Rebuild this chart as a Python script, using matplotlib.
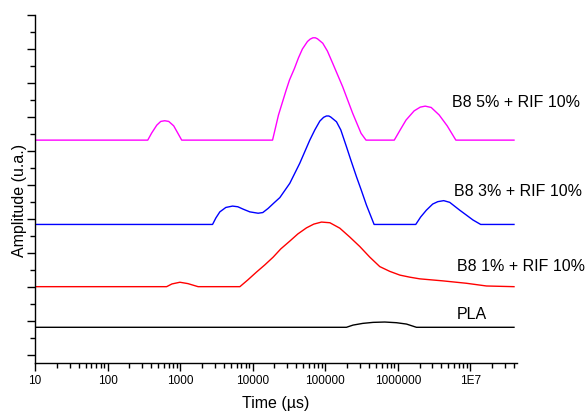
import matplotlib.pyplot as plt
from matplotlib.ticker import LogLocator, MultipleLocator, NullFormatter

plt.rcParams['font.family'] = ['Liberation Sans', 'DejaVu Sans']

# relaxation time (us) and stacked amplitude (u.a.) for each sample
t_b8_5 = [10, 358, 406, 477, 541, 614, 697, 816, 927, 1052, 18800, 22700, 28950,
          32200, 37700, 42800, 48500, 56900, 62000, 67700, 73000, 78200, 92500, 107200,
          126800, 174000, 239000, 312000, 365000, 895000, 1.08e6, 1.30e6, 1.68e6,
          2.04e6, 2.39e6, 2.89e6, 3.72e6, 4.80e6, 6.32e6, 4e7]
a_b8_5 = [6.32, 6.32, 6.53, 6.76, 6.87, 6.89, 6.87, 6.74, 6.53, 6.32, 6.32, 7.06, 7.79,
          8.09, 8.43, 8.74, 9.00, 9.22, 9.29, 9.33, 9.33, 9.30, 9.17, 8.94,
          8.58, 7.89, 7.11, 6.52, 6.32, 6.32, 6.62, 6.91, 7.18,
          7.29, 7.32, 7.28, 7.06, 6.74, 6.32, 6.32]

t_b8_3 = [10, 2800, 3110, 3530, 4270, 5280, 6250, 7390, 9140, 11900, 13800, 16300,
          19600, 23700, 32500, 44600, 61300, 71900, 84300, 95000, 104000, 112000,
          119000, 143000, 164000, 196000, 225000, 270000, 314000, 370000, 472000,
          1.77e6, 2.07e6, 2.48e6, 3.03e6, 3.56e6, 4.30e6, 5.20e6, 7.14e6, 8.64e6,
          1.09e7, 1.39e7, 4e7]
a_b8_3 = [3.84, 3.84, 4.03, 4.21, 4.34, 4.38, 4.36, 4.29, 4.21, 4.17, 4.19, 4.31,
          4.47, 4.63, 5.05, 5.64, 6.32, 6.62, 6.88, 6.99, 7.03, 7.03,
          7.00, 6.86, 6.62, 6.13, 5.74, 5.24, 4.85, 4.41, 3.84,
          3.84, 4.06, 4.26, 4.44, 4.51, 4.54, 4.49, 4.26, 4.13,
          3.97, 3.84, 3.84]

t_b8_1 = [10, 652, 771, 994, 1280, 1770, 6670, 8590, 11300, 14700, 19200, 24400,
          32500, 41900, 55200, 69600, 88900, 116000, 159000, 218000, 300000, 411000,
          565000, 776000, 1.07e6, 1.46e6, 2.01e6, 4.21e6, 8.83e6, 1.67e7, 4e7]
a_b8_1 = [2.01, 2.01, 2.09, 2.14, 2.10, 2.01, 2.01, 2.21, 2.44, 2.65, 2.88, 3.12,
          3.35, 3.56, 3.74, 3.85, 3.91, 3.89, 3.73, 3.47, 3.19, 2.88,
          2.60, 2.46, 2.35, 2.29, 2.24, 2.18, 2.11, 2.03, 2.01]

t_pla = [10, 196000, 242000, 329000, 457000, 662000, 960000, 1.32e6, 1.81e6, 4e7]
a_pla = [0.815, 0.815, 0.88, 0.93, 0.96, 0.97, 0.95, 0.91, 0.815, 0.815]

labels = ['B8 5% + RIF 10%', 'B8 3% + RIF 10%', 'B8 1% + RIF 10%', 'PLA']
colors = ['#ff00ff', '#0000ff', '#ff0000', '#000000']

xtick_vals = [10, 100, 1000, 10000, 100000, 1000000, 1e7]
xtick_labels = ['10', '100', '1000', '10000', '100000', '1000000', '1E7']

fig = plt.figure(figsize=(5.86, 4.12), dpi=100)
ax = fig.add_axes([35 / 586, 49 / 412, 482 / 586, 348 / 412])

series = [(t_b8_5, a_b8_5), (t_b8_3, a_b8_3), (t_b8_1, a_b8_1), (t_pla, a_pla)]
for (t, a), c in zip(series, colors):
    ax.plot(t, a, color=c, lw=1.0)

# curve names sit to the right, just above each trace
label_xy = [(5.66e6, 7.42), (5.9e6, 4.80), (6.5e6, 2.60), (6.6e6, 1.18)]
for (x, y), s in zip(label_xy, labels):
    ax.text(x, y, s, fontsize=11.5, ha='left', va='center', color='black')

ax.set_xscale('log')
ax.set_xlim(10, 4.4e7)
ax.set_ylim(-0.235, 10)

ax.set_xticks(xtick_vals)
ax.set_xticklabels(xtick_labels)
ax.xaxis.set_minor_locator(LogLocator(base=10, subs=range(2, 10), numticks=20))
ax.xaxis.set_minor_formatter(NullFormatter())

ax.yaxis.set_major_locator(MultipleLocator(1))
ax.yaxis.set_minor_locator(MultipleLocator(0.5))
ax.set_yticklabels([])

ax.tick_params(which='major', direction='out', length=6, width=1, labelsize=8.5, pad=3)
ax.tick_params(which='minor', direction='out', length=3.5, width=1)

for side in ['top', 'right']:
    ax.spines[side].set_visible(False)
for side in ['left', 'bottom']:
    ax.spines[side].set_linewidth(1.0)

ax.set_xlabel('Time (µs)', fontsize=11.5)
ax.set_ylabel('Amplitude (u.a.)', fontsize=11.5)
ax.xaxis.set_label_coords(0.5, -0.095)
ax.yaxis.set_label_coords(-0.016, 0.468)

fig.savefig('out.png', dpi=100)
